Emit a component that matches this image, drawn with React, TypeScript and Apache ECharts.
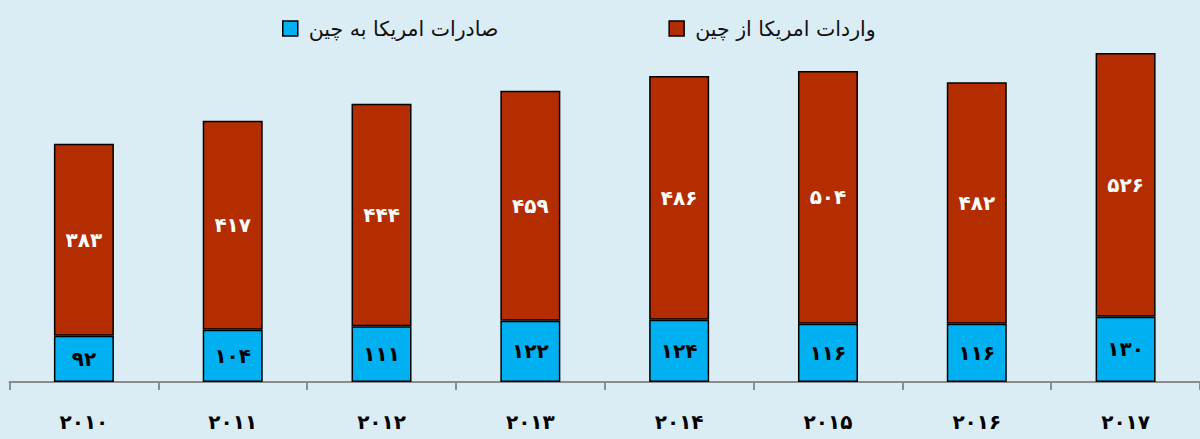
import React, { useEffect, useRef } from "react";
import * as echarts from "echarts";

const years = ["۲۰۱۰", "۲۰۱۱", "۲۰۱۲", "۲۰۱۳", "۲۰۱۴", "۲۰۱۵", "۲۰۱۶", "۲۰۱۷"];
const exportsToChina = [92, 104, 111, 122, 124, 116, 116, 130];
const importsFromChina = [383, 417, 444, 459, 486, 504, 482, 526];
const exportName = "صادرات امریکا به چین";
const importName = "واردات امریکا از چین";

const faDigits = "۰۱۲۳۴۵۶۷۸۹";
const toFa = (v: number | string) => String(v).replace(/\d/g, (d) => faDigits[Number(d)]);

export default function App() {
  const ref = useRef<HTMLDivElement>(null);
  useEffect(() => {
    if (!ref.current) return;
    const chart = echarts.init(ref.current, undefined, { renderer: "svg" });
    const font = "'DejaVu Sans', sans-serif";
    chart.setOption({
      animation: false,
      backgroundColor: "#dbedf4",
      textStyle: { fontFamily: font },
      legend: {
        left: 277,
        top: 13,
        itemGap: 170,
        itemWidth: 15,
        itemHeight: 15,
        icon: "rect",
        textStyle: { fontSize: 20.5, color: "#111", fontFamily: font, padding: [0, 0, 0, 6] },
        data: [
          { name: exportName, itemStyle: { borderColor: "#000", borderWidth: 1.5 } },
          { name: importName, itemStyle: { borderColor: "#000", borderWidth: 1.5 } },
        ],
      },
      grid: { left: 9.5, width: 1193, top: 34, bottom: 57, containLabel: false },
      xAxis: {
        type: "category",
        data: years,
        boundaryGap: true,
        axisLine: { lineStyle: { color: "#8c8c8c", width: 2 } },
        axisTick: { show: true, length: 8, lineStyle: { color: "#8c8c8c", width: 2 } },
        axisLabel: {
          margin: 30,
          fontSize: 20,
          fontWeight: "bold",
          color: "#000",
          fontFamily: font,
        },
      },
      yAxis: {
        type: "value",
        min: 0,
        max: 694,
        show: false,
        splitLine: { show: false },
      },
      series: [
        {
          name: exportName,
          type: "bar",
          stack: "t",
          data: exportsToChina,
          barWidth: 60,
          itemStyle: { color: "#00b0f0", borderColor: "#000", borderWidth: 1.5 },
          label: {
            show: true,
            position: "inside",
            color: "#000",
            fontSize: 20,
            fontWeight: "bold",
            fontFamily: font,
            formatter: (p: any) => toFa(p.value),
          },
        },
        {
          name: importName,
          type: "bar",
          stack: "t",
          data: importsFromChina,
          barWidth: 60,
          itemStyle: { color: "#b32d00", borderColor: "#000", borderWidth: 1.5 },
          label: {
            show: true,
            position: "inside",
            color: "#fff",
            fontSize: 20,
            fontWeight: "bold",
            fontFamily: font,
            formatter: (p: any) => toFa(p.value),
          },
        },
      ],
    });
    return () => chart.dispose();
  }, []);
  return (
    <div
      ref={ref}
      style={{ position: "absolute", left: 0, top: 0, width: 1200, height: 439 }}
    />
  );
}
